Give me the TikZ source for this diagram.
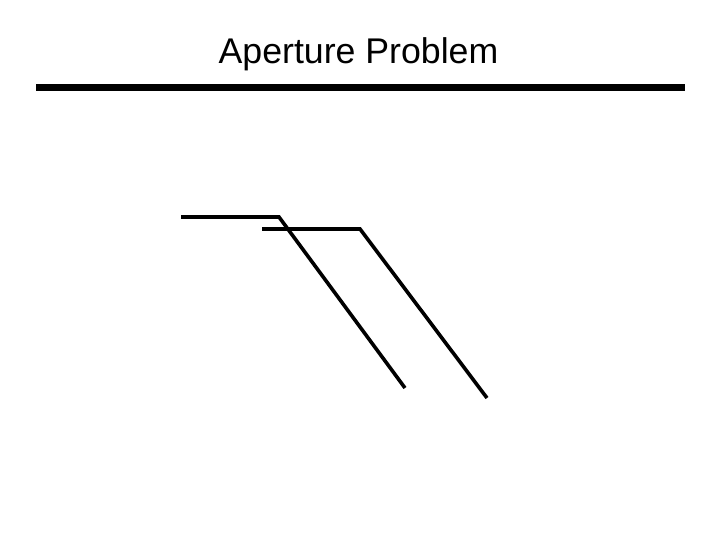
\documentclass[tikz,border=0pt]{standalone}
\usepackage{fontspec}
\setmainfont{Liberation Sans}
\begin{document}
\begin{tikzpicture}[x=1pt,y=-1pt,
  edge/.style={line width=3.6pt,line join=miter},
  bar/.style={line width=7pt}]
\useasboundingbox (0,0) rectangle (720,540);
\node[anchor=base,inner sep=0pt,font=\fontsize{35.7}{40}\selectfont] (title) at (358.5,64) {Aperture Problem};
\coordinate (b1) at (36,88);
\coordinate (b2) at (685,88);
\draw[bar] (b1) -- (b2);
\coordinate (a1) at (181,217);
\coordinate (a2) at (279,217);
\coordinate (a3) at (405,388);
\draw[edge] (a1) -- (a2) -- (a3);
\coordinate (c1) at (262,229);
\coordinate (c2) at (360,229);
\coordinate (c3) at (487,398);
\draw[edge] (c1) -- (c2) -- (c3);
\end{tikzpicture}
\end{document}
